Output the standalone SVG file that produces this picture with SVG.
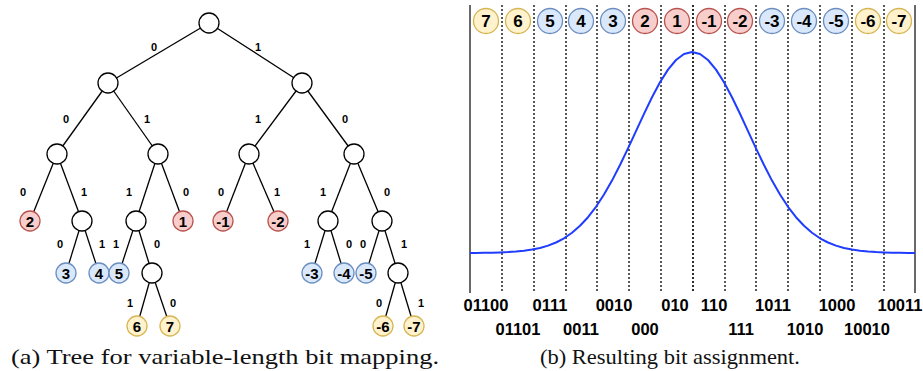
<svg xmlns="http://www.w3.org/2000/svg" width="923" height="371" viewBox="0 0 923 371">
<style>
.e{stroke:#000;stroke-width:1.3;fill:none}
.n{fill:#fff;stroke:#000;stroke-width:1.3}
.r{fill:#f8cecc;stroke:#b85450;stroke-width:1.3}
.b{fill:#dae8fc;stroke:#6c8ebf;stroke-width:1.3}
.y{fill:#fff2cc;stroke:#d6b656;stroke-width:1.3}
.t{font-family:'Liberation Sans',Arial,sans-serif;font-weight:bold;font-size:15px;text-anchor:middle;fill:#000}
.el{font-family:'Liberation Sans',Arial,sans-serif;font-weight:bold;font-size:11px;text-anchor:middle;fill:#000}
.tt{font-family:'Liberation Sans',Arial,sans-serif;font-weight:bold;font-size:17px;text-anchor:middle;fill:#000}
.bits{font-family:'Liberation Sans',Arial,sans-serif;font-weight:bold;font-size:16.5px;text-anchor:middle;fill:#000}
.cap{font-family:'Liberation Serif','Times New Roman',serif;font-size:21px;fill:#111}
.dl{stroke:#222;stroke-width:1.5;stroke-dasharray:2,2}
.sl{stroke:#444;stroke-width:1.6}
</style>

<!-- (a) Tree -->
<g id="tree-edges">
<line class="e" x1="209" y1="23" x2="108" y2="83"/>
<line class="e" x1="209" y1="23" x2="302" y2="83"/>
<line class="e" x1="108" y1="83" x2="57" y2="154"/>
<line class="e" x1="108" y1="83" x2="158" y2="154"/>
<line class="e" x1="302" y1="83" x2="249" y2="154"/>
<line class="e" x1="302" y1="83" x2="354" y2="154"/>
<line class="e" x1="57" y1="154" x2="30" y2="221"/>
<line class="e" x1="57" y1="154" x2="82" y2="221"/>
<line class="e" x1="158" y1="154" x2="136" y2="221"/>
<line class="e" x1="158" y1="154" x2="183" y2="221"/>
<line class="e" x1="249" y1="154" x2="223" y2="221"/>
<line class="e" x1="249" y1="154" x2="278" y2="221"/>
<line class="e" x1="354" y1="154" x2="328" y2="221"/>
<line class="e" x1="354" y1="154" x2="382" y2="221"/>
<line class="e" x1="82" y1="221" x2="66" y2="273"/>
<line class="e" x1="82" y1="221" x2="99" y2="273"/>
<line class="e" x1="136" y1="221" x2="119" y2="273"/>
<line class="e" x1="136" y1="221" x2="152" y2="273"/>
<line class="e" x1="328" y1="221" x2="312" y2="273"/>
<line class="e" x1="328" y1="221" x2="344" y2="273"/>
<line class="e" x1="382" y1="221" x2="366" y2="273"/>
<line class="e" x1="382" y1="221" x2="398" y2="273"/>
<line class="e" x1="152" y1="273" x2="137" y2="326"/>
<line class="e" x1="152" y1="273" x2="170" y2="326"/>
<line class="e" x1="398" y1="273" x2="383" y2="326"/>
<line class="e" x1="398" y1="273" x2="414" y2="326"/>
</g>
<g id="edge-labels">
<text class="el" x="154" y="51">0</text>
<text class="el" x="258" y="51">1</text>
<text class="el" x="66" y="123">0</text>
<text class="el" x="147" y="123">1</text>
<text class="el" x="258" y="123">1</text>
<text class="el" x="345" y="123">0</text>
<text class="el" x="23" y="196">0</text>
<text class="el" x="84" y="196">1</text>
<text class="el" x="129" y="196">1</text>
<text class="el" x="186" y="196">0</text>
<text class="el" x="221" y="196">0</text>
<text class="el" x="277" y="196">1</text>
<text class="el" x="323" y="196">1</text>
<text class="el" x="387" y="196">0</text>
<text class="el" x="60" y="248">0</text>
<text class="el" x="102" y="248">1</text>
<text class="el" x="116" y="248">1</text>
<text class="el" x="157" y="248">0</text>
<text class="el" x="307" y="248">1</text>
<text class="el" x="349" y="248">0</text>
<text class="el" x="363" y="248">0</text>
<text class="el" x="404" y="248">1</text>
<text class="el" x="130" y="307">1</text>
<text class="el" x="173" y="307">0</text>
<text class="el" x="379" y="307">0</text>
<text class="el" x="421" y="307">1</text>
</g>
<g id="n-root"><circle class="n" cx="209" cy="23" r="10"/></g>
<g id="n-l"><circle class="n" cx="108" cy="83" r="10"/></g>
<g id="n-r"><circle class="n" cx="302" cy="83" r="10"/></g>
<g id="n-ll"><circle class="n" cx="57" cy="154" r="10"/></g>
<g id="n-lr"><circle class="n" cx="158" cy="154" r="10"/></g>
<g id="n-rl"><circle class="n" cx="249" cy="154" r="10"/></g>
<g id="n-rr"><circle class="n" cx="354" cy="154" r="10"/></g>
<g id="n-2"><circle class="r" cx="30" cy="221" r="10"/><text class="t" x="30" y="226.5">2</text></g>
<g id="n-llr"><circle class="n" cx="82" cy="221" r="10"/></g>
<g id="n-lrl"><circle class="n" cx="136" cy="221" r="10"/></g>
<g id="n-1"><circle class="r" cx="183" cy="221" r="10"/><text class="t" x="183" y="226.5">1</text></g>
<g id="n-m1"><circle class="r" cx="223" cy="221" r="10"/><text class="t" x="223" y="226.5">-1</text></g>
<g id="n-m2"><circle class="r" cx="278" cy="221" r="10"/><text class="t" x="278" y="226.5">-2</text></g>
<g id="n-rrl"><circle class="n" cx="328" cy="221" r="10"/></g>
<g id="n-rrr"><circle class="n" cx="382" cy="221" r="10"/></g>
<g id="n-3"><circle class="b" cx="66" cy="273" r="10"/><text class="t" x="66" y="278.5">3</text></g>
<g id="n-4"><circle class="b" cx="99" cy="273" r="10"/><text class="t" x="99" y="278.5">4</text></g>
<g id="n-5"><circle class="b" cx="119" cy="273" r="10"/><text class="t" x="119" y="278.5">5</text></g>
<g id="n-lrlr"><circle class="n" cx="152" cy="273" r="10"/></g>
<g id="n-m3"><circle class="b" cx="312" cy="273" r="10"/><text class="t" x="312" y="278.5">-3</text></g>
<g id="n-m4"><circle class="b" cx="344" cy="273" r="10"/><text class="t" x="344" y="278.5">-4</text></g>
<g id="n-m5"><circle class="b" cx="366" cy="273" r="10"/><text class="t" x="366" y="278.5">-5</text></g>
<g id="n-rrrr"><circle class="n" cx="398" cy="273" r="10"/></g>
<g id="n-6"><circle class="y" cx="137" cy="326" r="10"/><text class="t" x="137" y="331.5">6</text></g>
<g id="n-7"><circle class="y" cx="170" cy="326" r="10"/><text class="t" x="170" y="331.5">7</text></g>
<g id="n-m6"><circle class="y" cx="383" cy="326" r="10"/><text class="t" x="383" y="331.5">-6</text></g>
<g id="n-m7"><circle class="y" cx="414" cy="326" r="10"/><text class="t" x="414" y="331.5">-7</text></g>

<!-- (b) bit assignment -->
<g id="grid">
<line class="sl" x1="470" y1="5" x2="470" y2="293"/>
<line class="dl" x1="502" y1="5" x2="502" y2="293"/>
<line class="dl" x1="534" y1="5" x2="534" y2="293"/>
<line class="dl" x1="566" y1="5" x2="566" y2="293"/>
<line class="dl" x1="597" y1="5" x2="597" y2="293"/>
<line class="dl" x1="629" y1="5" x2="629" y2="293"/>
<line class="dl" x1="661" y1="5" x2="661" y2="293"/>
<line class="dl" x1="693" y1="5" x2="693" y2="293" style="stroke-width:1.9"/>
<line class="dl" x1="725" y1="5" x2="725" y2="293"/>
<line class="dl" x1="756" y1="5" x2="756" y2="293"/>
<line class="dl" x1="788" y1="5" x2="788" y2="293"/>
<line class="dl" x1="820" y1="5" x2="820" y2="293"/>
<line class="dl" x1="852" y1="5" x2="852" y2="293"/>
<line class="dl" x1="884" y1="5" x2="884" y2="293"/>
<line class="sl" x1="915" y1="5" x2="915" y2="293"/>
</g>
<polyline id="gauss" fill="none" stroke="#1f3cff" stroke-width="2" stroke-linejoin="round" points="470,253.0 476,252.9 484,252.8 492,252.7 500,252.4 508,252.1 516,251.6 524,250.8 532,249.6 540,248.0 548,245.6 556,242.5 564,238.3 572,232.8 580,225.8 588,217.2 596,206.8 604,194.5 612,180.6 620,165.0 628,148.4 636,131.1 644,113.8 652,97.3 660,82.3 668,69.6 676,60.0 684,54.0 692,52.0 700,54.0 708,60.0 716,69.6 724,82.3 732,97.3 740,113.8 748,131.1 756,148.4 764,165.0 772,180.6 780,194.5 788,206.8 796,217.2 804,225.8 812,232.8 820,238.3 828,242.5 836,245.6 844,248.0 852,249.6 860,250.8 868,251.6 876,252.1 884,252.4 892,252.7 900,252.8 908,252.9 915,253.0"/>
<g id="t7"><circle class="y" cx="486" cy="21" r="12.5"/><text class="tt" x="486" y="27">7</text></g>
<g id="t6"><circle class="y" cx="518" cy="21" r="12.5"/><text class="tt" x="518" y="27">6</text></g>
<g id="t5"><circle class="b" cx="550" cy="21" r="12.5"/><text class="tt" x="550" y="27">5</text></g>
<g id="t4"><circle class="b" cx="581" cy="21" r="12.5"/><text class="tt" x="581" y="27">4</text></g>
<g id="t3"><circle class="b" cx="613" cy="21" r="12.5"/><text class="tt" x="613" y="27">3</text></g>
<g id="t2"><circle class="r" cx="645" cy="21" r="12.5"/><text class="tt" x="645" y="27">2</text></g>
<g id="t1"><circle class="r" cx="677" cy="21" r="12.5"/><text class="tt" x="677" y="27">1</text></g>
<g id="tm1"><circle class="r" cx="709" cy="21" r="12.5"/><text class="tt" x="709" y="27">-1</text></g>
<g id="tm2"><circle class="r" cx="740" cy="21" r="12.5"/><text class="tt" x="740" y="27">-2</text></g>
<g id="tm3"><circle class="b" cx="772" cy="21" r="12.5"/><text class="tt" x="772" y="27">-3</text></g>
<g id="tm4"><circle class="b" cx="804" cy="21" r="12.5"/><text class="tt" x="804" y="27">-4</text></g>
<g id="tm5"><circle class="b" cx="836" cy="21" r="12.5"/><text class="tt" x="836" y="27">-5</text></g>
<g id="tm6"><circle class="y" cx="868" cy="21" r="12.5"/><text class="tt" x="868" y="27">-6</text></g>
<g id="tm7"><circle class="y" cx="899" cy="21" r="12.5"/><text class="tt" x="899" y="27">-7</text></g>
<g id="bitcodes">
<text class="bits" x="486" y="311">01100</text>
<text class="bits" x="550" y="311">0111</text>
<text class="bits" x="614" y="311">0010</text>
<text class="bits" x="675" y="311">010</text>
<text class="bits" x="714" y="311">110</text>
<text class="bits" x="773" y="311">1011</text>
<text class="bits" x="837" y="311">1000</text>
<text class="bits" x="900" y="311">10011</text>
<text class="bits" x="518" y="335">01101</text>
<text class="bits" x="581" y="335">0011</text>
<text class="bits" x="645" y="335">000</text>
<text class="bits" x="741" y="335">111</text>
<text class="bits" x="805" y="335">1010</text>
<text class="bits" x="867" y="335">10010</text>
</g>
<text class="cap" x="11" y="364" textLength="428" lengthAdjust="spacingAndGlyphs">(a) Tree for variable-length bit mapping.</text>
<text class="cap" x="540" y="364" textLength="260" lengthAdjust="spacingAndGlyphs">(b) Resulting bit assignment.</text>
</svg>
